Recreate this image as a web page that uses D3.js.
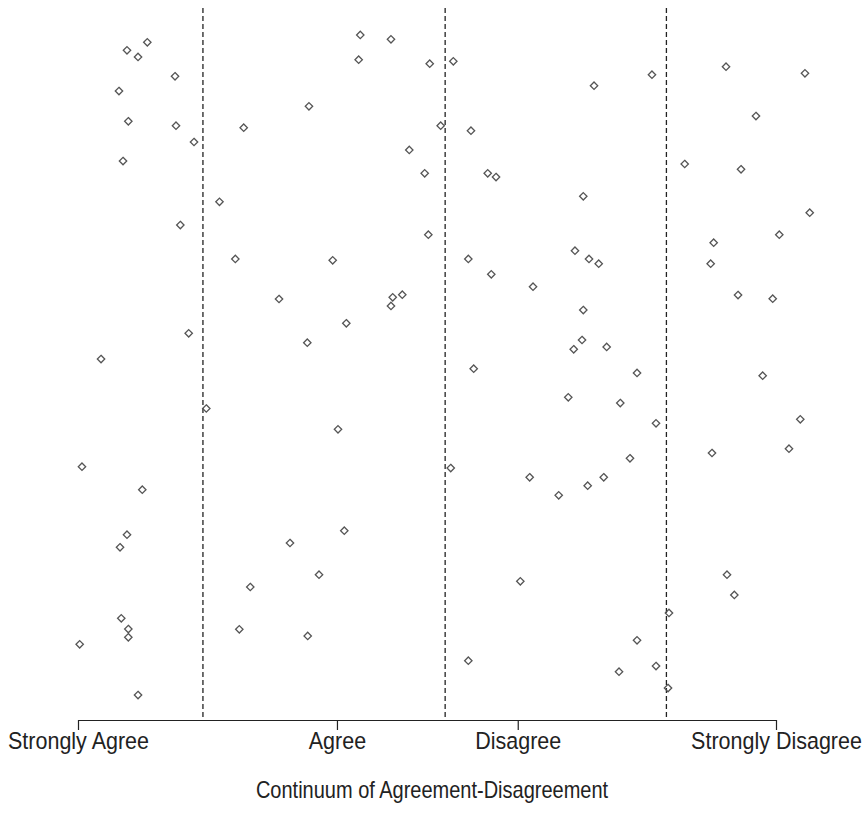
<!DOCTYPE html>
<html>
<head>
<meta charset="utf-8">
<script src="https://cdn.jsdelivr.net/npm/d3@7"></script>
<style>
  html, body { margin: 0; padding: 0; background: #fff; }
  svg text { font-family: "Liberation Sans", Arial, sans-serif; fill: #222; }
</style>
</head>
<body>
<svg id="chart" width="863" height="825"></svg>
<script>
// Continuum position (0 = Strongly Agree, 100 = Strongly Disagree)
const xVals = [
  9.93, 7.02, 8.60, 13.90, 5.87, 7.21, 14.04, 16.62, 6.45, 14.66,
  15.86, 3.30, 0.57, 9.21, 7.02, 6.02, 6.20, 7.21, 7.21, 0.24,
  8.60, 18.38, 20.27, 40.44, 44.84, 40.21, 50.39, 33.09, 23.74, 51.96,
  47.46, 49.67, 50.19, 22.54, 36.49, 28.80, 45.09, 46.46, 44.84, 38.44,
  32.85, 37.25, 38.15, 30.37, 34.53, 24.68, 23.11, 32.91, 53.77, 82.23,
  73.93, 56.30, 58.70, 59.89, 72.39, 55.92, 71.20, 73.21, 74.60, 59.21,
  65.19, 72.39, 72.21, 71.02, 75.74, 56.69, 80.09, 70.24, 77.69, 82.81,
  79.08, 53.40, 64.71, 75.32, 73.02, 68.87, 63.37, 80.09, 55.92, 82.81,
  77.51, 84.67, 84.53, 92.84, 104.15, 97.13, 86.92, 94.99, 104.83, 100.47,
  91.07, 90.64, 94.56, 99.53, 98.09, 103.48, 101.86, 90.83, 92.98, 94.03
];
// Vertical jitter (0 - 100)
const yVals = [
  95.18, 94.06, 93.12, 90.41, 88.34, 84.09, 83.47, 81.18, 78.51, 69.52,
  54.31, 50.70, 35.58, 32.35, 26.03, 24.26, 14.28, 12.78, 11.62, 10.63,
  3.51, 43.75, 72.78, 96.21, 95.60, 92.74, 92.18, 86.19, 83.19, 83.47,
  80.06, 76.78, 68.16, 64.75, 64.56, 59.13, 59.37, 59.73, 58.15, 55.72,
  52.99, 40.83, 26.59, 24.86, 20.41, 18.68, 12.74, 11.80, 92.51, 90.63,
  89.09, 82.77, 76.78, 76.26, 73.55, 64.75, 65.91, 64.75, 64.09, 62.60,
  60.86, 57.58, 53.37, 52.07, 52.39, 49.34, 48.74, 45.32, 44.52, 41.67,
  36.76, 35.39, 34.09, 34.09, 32.91, 31.56, 19.48, 11.19, 8.33, 7.58,
  6.78, 15.03, 4.49, 91.76, 90.83, 84.83, 78.09, 77.35, 71.25, 68.16,
  67.04, 64.09, 59.69, 59.17, 48.36, 42.23, 38.10, 37.50, 20.41, 17.56
];
const tickValues = [0, 37.1, 63.0, 100];
const tickLabels = ["Strongly Agree", "Agree", "Disagree", "Strongly Disagree"];
const cutPoints = [17.9, 52.6, 84.3];
const xTitle = "Continuum of Agreement-Disagreement";

const svg = d3.select("#chart");
const x = d3.scaleLinear().domain([0, 100]).range([78, 776]);
const y = d3.scaleLinear().domain([0, 100]).range([720, 8]);

// dashed cut lines
svg.append("g").selectAll("line").data(cutPoints).join("line")
  .attr("x1", d => x(d)).attr("x2", d => x(d))
  .attr("y1", y(100)).attr("y2", y(0))
  .attr("stroke", "#222").attr("stroke-width", 1.3)
  .attr("stroke-dasharray", "5,3");

// points (diamonds)
const s = 3.7;
svg.append("g").selectAll("path").data(xVals.map((v, i) => [v, yVals[i]])).join("path")
  .attr("d", d => {
    const cx = x(d[0]), cy = y(d[1]);
    return `M${cx},${cy - s}L${cx + s},${cy}L${cx},${cy + s}L${cx - s},${cy}Z`;
  })
  .attr("fill", "none").attr("stroke", "#555").attr("stroke-width", 1.3);

// axis
const axis = d3.axisBottom(x).tickValues(tickValues)
  .tickFormat((d, i) => tickLabels[i]).tickSizeOuter(0).tickSizeInner(10).tickPadding(6);
const gAxis = svg.append("g").attr("transform", `translate(0,${y(0)})`).call(axis);
gAxis.select(".domain").attr("stroke", "#222").attr("stroke-width", 1.2);
gAxis.selectAll(".tick line").attr("stroke", "#222").attr("stroke-width", 1.2);
gAxis.selectAll(".tick text").attr("font-size", 21.5).attr("fill", "#222")
  .attr("font-family", "'Liberation Sans', Arial, sans-serif")
  .attr("y", 0).attr("dy", 0)
  .attr("transform", "translate(0,29) scale(1,1.12)");

svg.append("text").attr("text-anchor", "middle")
  .attr("transform", "translate(432,798) scale(1,1.18)")
  .attr("font-size", 20).text(xTitle);
</script>
</body>
</html>
